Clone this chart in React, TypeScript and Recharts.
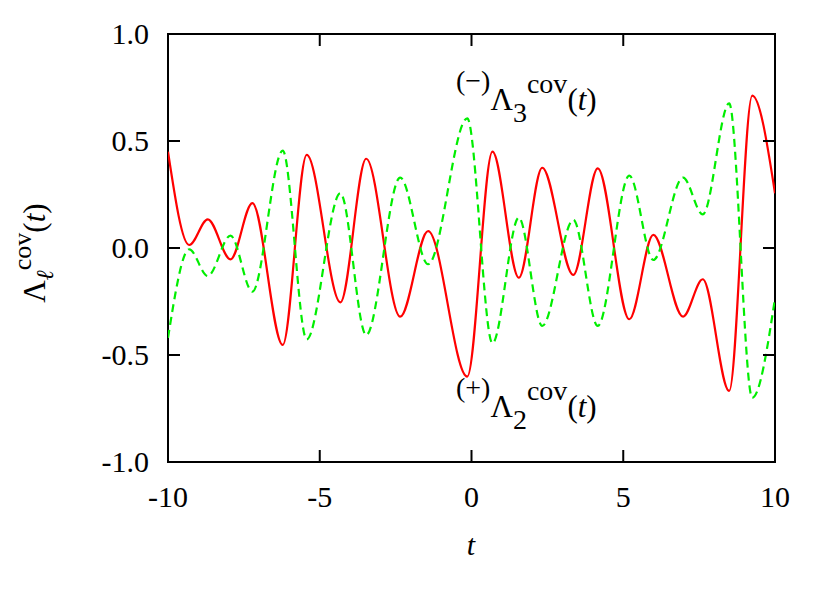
import { LineChart, Line, XAxis, YAxis, ReferenceArea } from "recharts";

// extrema (t, value)
const tPoints = [
  -10, -9.3, -8.69, -7.94, -7.22, -6.22, -5.43, -4.32, -3.47, -2.35, -1.43, -0.14,
  0.69, 1.56, 2.33, 3.355, 4.16, 5.2, 5.99, 6.97, 7.62, 8.49, 9.25, 10,
];
const lambda2 = [
  0.45, 0.014, 0.134, -0.053, 0.21, -0.453, 0.435, -0.254, 0.417, -0.321, 0.079, -0.601,
  0.45, -0.139, 0.375, -0.126, 0.372, -0.333, 0.061, -0.321, -0.146, -0.668, 0.712, 0.256,
];
const lambda3 = [
  -0.42, -0.006, -0.131, 0.058, -0.204, 0.455, -0.427, 0.256, -0.407, 0.329, -0.076, 0.606,
  -0.445, 0.142, -0.364, 0.131, -0.364, 0.338, -0.056, 0.329, 0.157, 0.676, -0.7, -0.235,
];
const xTicks = [-10, -5, 0, 5, 10];
const yTicks = [-1, -0.5, 0, 0.5, 1];

const data = tPoints.map((t, i) => ({ t, l2: lambda2[i], l3: lambda3[i] }));

const W = 830;
const H = 594;
const LEFT = 168;
const TOP = 34;
const RIGHT = 775;
const BOTTOM = 462;
const TICK = 12;
const FONT = "Liberation Serif";
const txt = { fontFamily: FONT };

function XTick({ x, payload }: any) {
  return (
    <g>
      <line x1={x} x2={x} y1={BOTTOM} y2={BOTTOM - TICK} stroke="#000" strokeWidth={2} />
      <line x1={x} x2={x} y1={TOP} y2={TOP + TICK} stroke="#000" strokeWidth={2} />
      <text x={x} y={507} textAnchor="middle" fontSize={30} style={txt} fill="#000">
        {String(payload.value)}
      </text>
    </g>
  );
}

function YTick({ y, payload }: any) {
  return (
    <g>
      <line x1={LEFT} x2={LEFT + TICK} y1={y} y2={y} stroke="#000" strokeWidth={2} />
      <line x1={RIGHT} x2={RIGHT - TICK} y1={y} y2={y} stroke="#000" strokeWidth={2} />
      <text x={149} y={y + 10} textAnchor="end" fontSize={30} style={txt} fill="#000">
        {payload.value.toFixed(1)}
      </text>
    </g>
  );
}

function CurveLabel({ x, y, sign, index }: { x: number; y: number; sign: string; index: string }) {
  // y is the baseline of the Lambda
  return (
    <text x={x} y={y - 20} fontSize={28} style={txt} fill="#000">
      {sign}
      <tspan fontSize={31} dy={20}>Λ</tspan>
      <tspan fontSize={28} dy={12}>{index}</tspan>
      <tspan fontSize={28} dy={-29}>cov</tspan>
      <tspan fontSize={31} dy={17}>(</tspan>
      <tspan fontSize={31} fontStyle="italic">t</tspan>
      <tspan fontSize={31}>)</tspan>
    </text>
  );
}

export default function App() {
  return (
    <div style={{ position: "absolute", left: 0, top: 0, width: W, height: H, background: "#fff" }}>
      <LineChart
        width={W}
        height={H}
        data={data}
        margin={{ top: TOP, right: W - RIGHT, bottom: 0, left: 0 }}
      >
        <XAxis
          dataKey="t"
          type="number"
          domain={[-10, 10]}
          ticks={xTicks}
          tick={<XTick />}
          tickLine={false}
          axisLine={false}
          height={H - BOTTOM}
          allowDataOverflow
        />
        <YAxis
          type="number"
          domain={[-1, 1]}
          ticks={yTicks}
          tick={<YTick />}
          tickLine={false}
          axisLine={false}
          width={LEFT}
          allowDataOverflow
        />
        <Line
          dataKey="l2"
          type="monotone"
          stroke="#ff0000"
          strokeWidth={2.2}
          dot={false}
          isAnimationActive={false}
        />
        <Line
          dataKey="l3"
          type="monotone"
          stroke="#00ee00"
          strokeWidth={2.2}
          strokeDasharray="8 5"
          dot={false}
          isAnimationActive={false}
        />
        <ReferenceArea
          x1={-10}
          x2={10}
          y1={-1}
          y2={1}
          fill="none"
          stroke="#000"
          strokeWidth={2}
          ifOverflow="visible"
        />
      </LineChart>
      <svg
        width={W}
        height={H}
        style={{ position: "absolute", left: 0, top: 0, pointerEvents: "none", fontFamily: FONT }}
        fill="#000"
      >
        <text transform="rotate(-90 45 253)" x={45} y={253} textAnchor="middle" fontSize={31} style={txt}>
          Λ
          <tspan fontSize={24} fontStyle="italic" dy={8}>ℓ</tspan>
          <tspan fontSize={26} dy={-22}>cov</tspan>
          <tspan dy={14}>(</tspan>
          <tspan fontStyle="italic">t</tspan>
          <tspan>)</tspan>
        </text>
        <text x={471} y={555} textAnchor="middle" fontSize={30} fontStyle="italic" style={txt}>
          t
        </text>
        <CurveLabel x={456} y={110} sign="(−)" index="3" />
        <CurveLabel x={456} y={417} sign="(+)" index="2" />
      </svg>
    </div>
  );
}
